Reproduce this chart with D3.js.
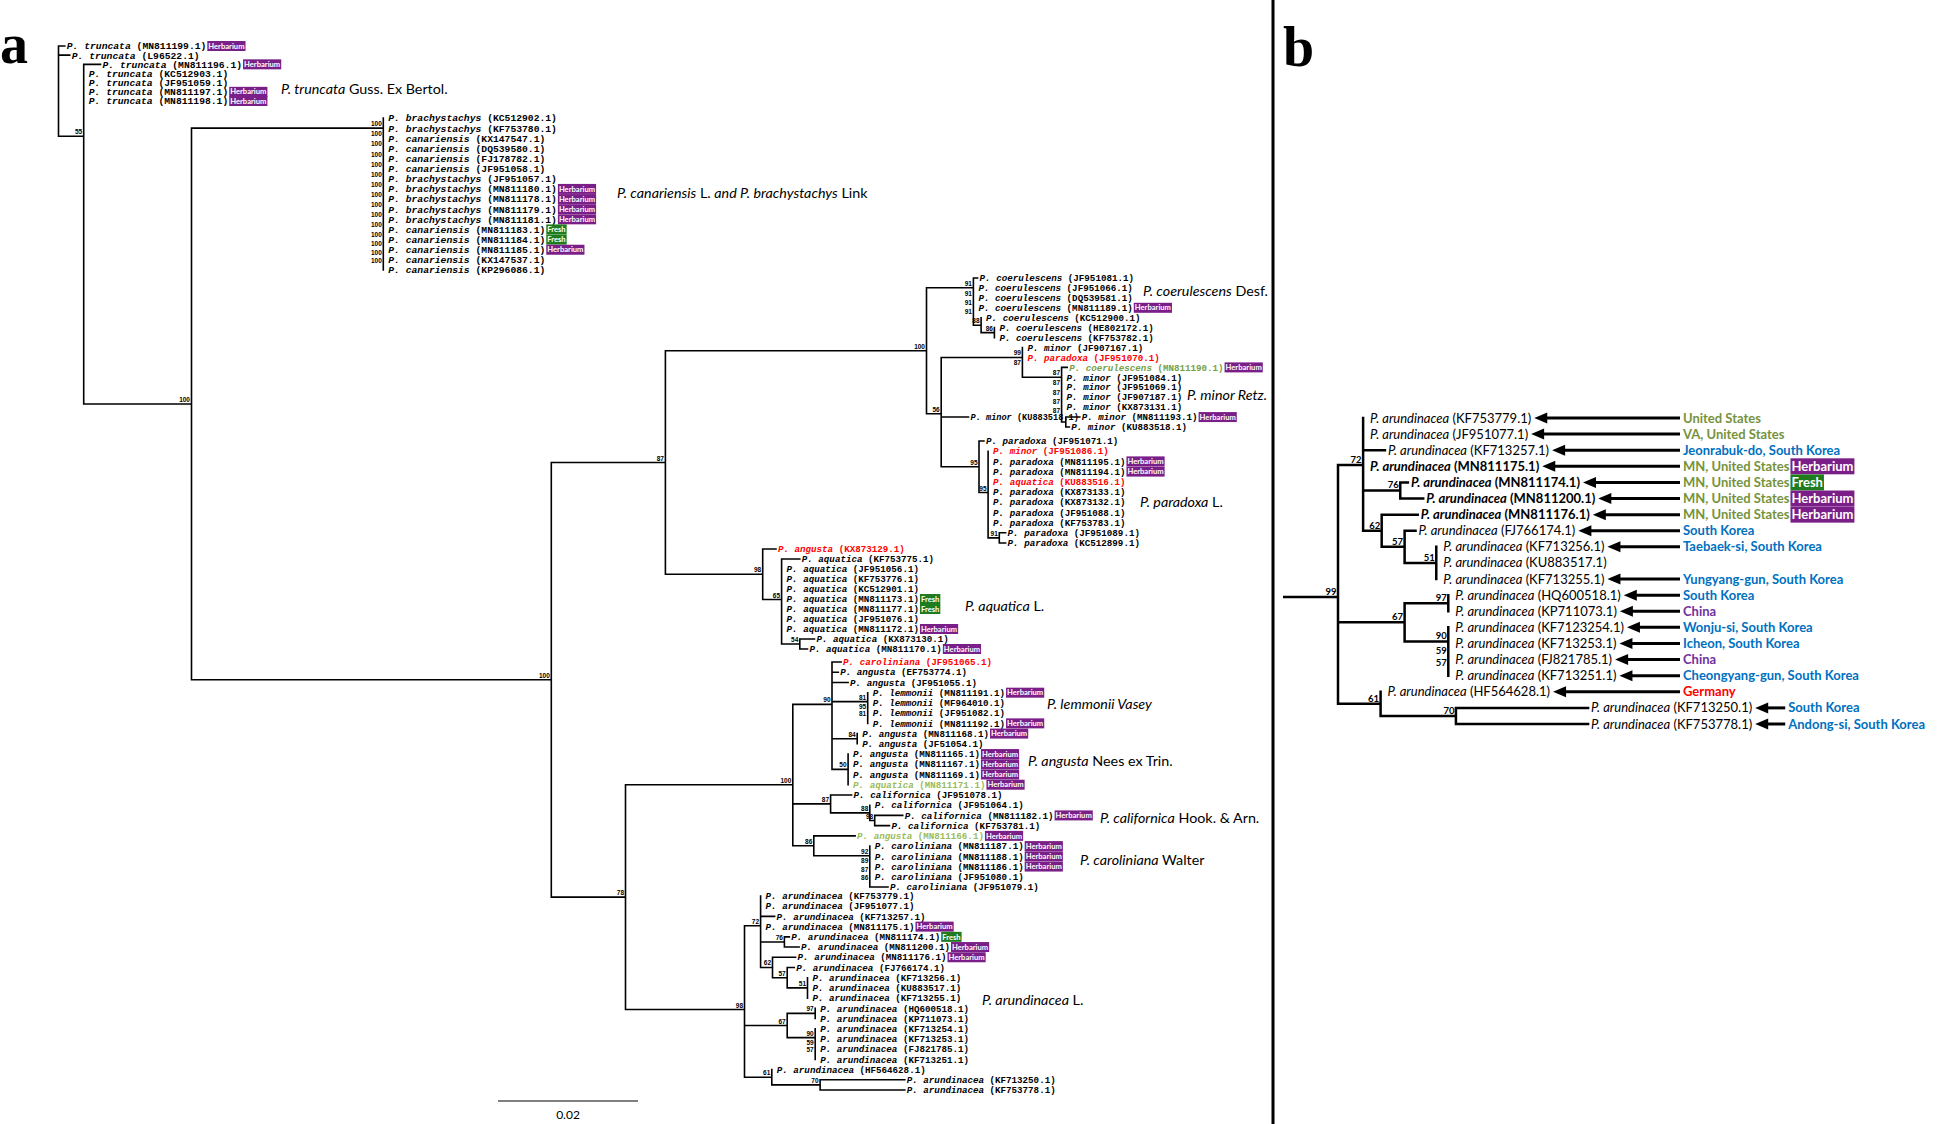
<!DOCTYPE html>
<html>
<head>
<meta charset="utf-8">
<script src="https://cdn.jsdelivr.net/npm/d3@7"></script>
<style>
  body { margin: 0; background: #fff; }
  svg { display: block; }
</style>
</head>
<body>
<svg id="fig" width="1953" height="1124"></svg>
<script>
// helpers for writing the tree down: a leaf is one sequence, a node carries its bootstrap value
function leaf(sp, acc, bl, tag, col, extra) {
  return Object.assign({sp: sp, acc: acc, bl: bl, tag: tag, col: col}, extra || {});
}
function node(sup, bl, children, extra) {
  return Object.assign({sup: sup, bl: bl, children: children}, extra || {});
}
// zero-length comb (ladder) of nodes, one support value per step
function ladder(sups, bl, items) {
  if (items.length === 2) return node(sups[0], bl, items);
  return node(sups[0], bl, [items[0], ladder(sups.slice(1), 0, items.slice(1))]);
}

// ---- data: branch lengths in substitutions / site ----
const truncataTaxa = [
  leaf("truncata", "MN811199.1", 0.0009, "H"),
  leaf("truncata", "L96522.1", 0.0016),
  leaf("truncata", "MN811196.1", 0.0024, "H"),
  leaf("truncata", "KC512903.1", 0),
  leaf("truncata", "JF951059.1", 0),
  leaf("truncata", "MN811197.1", 0, "H"),
  leaf("truncata", "MN811198.1", 0, "H")
];

const brachTaxa = [
  ["brachystachys", "KC512902.1"], ["brachystachys", "KF753780.1"], ["canariensis", "KX147547.1"],
  ["canariensis", "DQ539580.1"], ["canariensis", "FJ178782.1"], ["canariensis", "JF951058.1"],
  ["brachystachys", "JF951057.1"], ["brachystachys", "MN811180.1", "H"], ["brachystachys", "MN811178.1", "H"],
  ["brachystachys", "MN811179.1", "H"], ["brachystachys", "MN811181.1", "H"], ["canariensis", "MN811183.1", "F"],
  ["canariensis", "MN811184.1", "F"], ["canariensis", "MN811185.1", "H"], ["canariensis", "KX147537.1"],
  ["canariensis", "KP296086.1"]
];
const brachSupport = [100, 100, 100, 100, 100, 100, 100, 100, 100, 100, 100, 100, 100, 100, 100];

const coerulescensClade = ladder([91, 91, 91, 91], 0.0067, [
  leaf("coerulescens", "JF951081.1", 0.0006),
  leaf("coerulescens", "JF951066.1", 0),
  leaf("coerulescens", "DQ539581.1", 0),
  leaf("coerulescens", "MN811189.1", 0, "H"),
  node(88, 0.0011, [
    leaf("coerulescens", "KC512900.1", 0),
    node(86, 0.0019, [leaf("coerulescens", "HE802172.1", 0), leaf("coerulescens", "KF753782.1", 0)])
  ])
]);

const minorClade = ladder([99, 87], 0.0116, [
  leaf("minor", "JF907167.1", 0),
  leaf("paradoxa", "JF951070.1", 0, null, "r"),
  ladder([87, 87, 87, 87, 87], 0.0056, [
    leaf("coerulescens", "MN811190.1", 0.0008, "H", "g"),
    leaf("minor", "JF951084.1", 0),
    leaf("minor", "JF951069.1", 0),
    leaf("minor", "JF907187.1", 0),
    leaf("minor", "KX873131.1", 0),
    node(null, 0.0006, [leaf("minor", "MN811193.1", 0.002, "H"), leaf("minor", "KU883518.1", 0.0005)])
  ])
]);

const paradoxaClade = node(95, 0.0054, [
  leaf("paradoxa", "JF951071.1", 0.0007),
  node(95, 0.0013, [
    leaf("minor", "JF951086.1", 0, null, "r"),
    leaf("paradoxa", "MN811195.1", 0, "H"),
    leaf("paradoxa", "MN811194.1", 0, "H"),
    leaf("aquatica", "KU883516.1", 0, null, "r"),
    leaf("paradoxa", "KX873133.1", 0),
    leaf("paradoxa", "KX873132.1", 0),
    leaf("paradoxa", "JF951088.1", 0),
    leaf("paradoxa", "KF753783.1", 0),
    node(91, 0.0016, [leaf("paradoxa", "JF951089.1", 0.0009), leaf("paradoxa", "KC512899.1", 0.0009)])
  ])
]);

const aquaticaClade = node(98, 0.0139, [
  leaf("angusta", "KX873129.1", 0.0019, null, "r"),
  node(65, 0.0027, [
    leaf("aquatica", "KF753775.1", 0.0026),
    leaf("aquatica", "JF951056.1", 0),
    leaf("aquatica", "KF753776.1", 0),
    leaf("aquatica", "KC512901.1", 0),
    leaf("aquatica", "MN811173.1", 0, "F"),
    leaf("aquatica", "MN811177.1", 0, "F"),
    leaf("aquatica", "JF951076.1", 0),
    leaf("aquatica", "MN811172.1", 0, "H"),
    node(54, 0.0026, [leaf("aquatica", "KX873130.1", 0.0021), leaf("aquatica", "MN811170.1", 0.0011, "H")])
  ])
]);

const lemmoniiClade = node(100, 0.0239, [
  node(90, 0.0056, [
    leaf("caroliniana", "JF951065.1", 0.0013, null, "r"),
    leaf("angusta", "EF753774.1", 0.0009),
    leaf("angusta", "JF951055.1", 0.0023),
    ladder([81, 95, 81], 0.0051, [
      leaf("lemmonii", "MN811191.1", 0, "H"), leaf("lemmonii", "MF964010.1", 0),
      leaf("lemmonii", "JF951082.1", 0), leaf("lemmonii", "MN811192.1", 0, "H")
    ]),
    node(84, 0.0036, [leaf("angusta", "MN811168.1", 0, "H"), leaf("angusta", "JF51054.1", 0)]),
    node(50, 0.0023, [
      leaf("angusta", "MN811165.1", 0, "H"), leaf("angusta", "MN811167.1", 0, "H"),
      leaf("angusta", "MN811169.1", 0, "H"), leaf("aquatica", "MN811171.1", 0, "H", "lg")
    ])
  ]),
  node(87, 0.0054, [
    leaf("californica", "JF951078.1", 0.003),
    node(88, 0.0056, [
      leaf("californica", "JF951064.1", 0),
      node(98, 0.0007, [leaf("californica", "MN811182.1", 0.004, "H"), leaf("californica", "KF753781.1", 0.0021)])
    ])
  ]),
  node(86, 0.003, [
    leaf("angusta", "MN811166.1", 0.0059, "H", "lg"),
    ladder([92, 89, 87, 86], 0.008, [
      leaf("caroliniana", "MN811187.1", 0, "H"), leaf("caroliniana", "MN811188.1", 0, "H"),
      leaf("caroliniana", "MN811186.1", 0, "H"), leaf("caroliniana", "JF951080.1", 0),
      leaf("caroliniana", "JF951079.1", 0.0026)
    ])
  ])
]);

const arundinaceaClade = node(98, 0.017, [
  node(72, 0.0023, [
    leaf("arundinacea", "KF753779.1", 0),
    leaf("arundinacea", "JF951077.1", 0),
    leaf("arundinacea", "KF713257.1", 0.002),
    leaf("arundinacea", "MN811175.1", 0, "H"),
    node(76, 0.0034, [leaf("arundinacea", "MN811174.1", 0.0007, "F"), leaf("arundinacea", "MN811200.1", 0.0021, "H")]),
    node(62, 0.0017, [
      leaf("arundinacea", "MN811176.1", 0.0033, "H"),
      node(57, 0.0021, [
        leaf("arundinacea", "FJ766174.1", 0.001),
        node(51, 0.0029, [leaf("arundinacea", "KF713256.1", 0), leaf("arundinacea", "KU883517.1", 0), leaf("arundinacea", "KF713255.1", 0)])
      ])
    ])
  ]),
  node(67, 0.0061, [
    node(97, 0.004, [leaf("arundinacea", "HQ600518.1", 0), leaf("arundinacea", "KP711073.1", 0)]),
    ladder([90, 59, 57], 0.004, [
      leaf("arundinacea", "KF713254.1", 0), leaf("arundinacea", "KF713253.1", 0),
      leaf("arundinacea", "FJ821785.1", 0), leaf("arundinacea", "KF713251.1", 0)
    ])
  ]),
  node(61, 0.0039, [
    leaf("arundinacea", "HF564628.1", 0),
    node(70, 0.0069, [leaf("arundinacea", "KF713250.1", 0.0121), leaf("arundinacea", "KF753778.1", 0.0121)])
  ])
], {supB: 99});

// panel b: accession as printed, place of origin, colour group
const bAccessions = ["KF753779.1", "JF951077.1", "KF713257.1", "MN811175.1", "MN811174.1", "MN811200.1", "MN811176.1",
  "FJ766174.1", "KF713256.1", "KU883517.1", "KF713255.1", "HQ600518.1", "KP711073.1", "KF7123254.1", "KF713253.1",
  "FJ821785.1", "KF713251.1", "HF564628.1", "KF713250.1", "KF753778.1"];
const bPlaces = ["United States", "VA, United States", "Jeonrabuk-do, South Korea", "MN, United States", "MN, United States",
  "MN, United States", "MN, United States", "South Korea", "Taebaek-si, South Korea", null, "Yungyang-gun, South Korea",
  "South Korea", "China", "Wonju-si, South Korea", "Icheon, South Korea", "China", "Cheongyang-gun, South Korea",
  "Germany", "South Korea", "Andong-si, South Korea"];
const bRegions = ["us", "us", "kr", "us", "us", "us", "us", "kr", "kr", null, "kr", "kr", "cn", "kr", "kr", "cn", "kr", "de", "kr", "kr"];

const cladeNames = [
  [["P. truncata", 1], [" Guss. Ex Bertol.", 0]],
  [["P. canariensis", 1], [" L. ", 0], ["and P. brachystachys", 1], [" Link", 0]],
  [["P. coerulescens", 1], [" Desf.", 0]],
  [["P. minor Retz.", 1]],
  [["P. paradoxa", 1], [" L.", 0]],
  [["P. aquatica", 1], [" L.", 0]],
  [["P. lemmonii Vasey", 1]],
  [["P. angusta", 1], [" Nees ex Trin.", 0]],
  [["P. californica", 1], [" Hook. & Arn.", 0]],
  [["P. caroliniana", 1], [" Walter", 0]],
  [["P. arundinacea", 1], [" L.", 0]]
];

// assemble the whole tree of panel a
const treeA = node(null, 0, [
  truncataTaxa[0], truncataTaxa[1],
  node(55, 0.0036, truncataTaxa.slice(2).concat([
    node(100, 0.0154, [
      ladder(brachSupport, 0.0274, brachTaxa.map(t => leaf(t[0], t[1], 0, t[2]))),
      node(100, 0.0514, [
        node(87, 0.0163, [
          node(100, 0.0373, [
            coerulescensClade,
            node(56, 0.0021, [minorClade, leaf("minor", "KU883518.1", 0.0039, null, null, {sameRow: "MN811193.1"}), paradoxaClade])
          ]),
          aquaticaClade
        ]),
        node(78, 0.0106, [lemmoniiClade, arundinaceaClade])
      ])
    ])
  ]))
]);

// ---- layout ----
const svg = d3.select("#fig");
const colours = {r: "#ff0000", g: "#77a045", lg: "#9bbb59"};
const tagStyle = {H: {label: "Herbarium", fill: "#7b1f88"}, F: {label: "Fresh", fill: "#1e7b1e"}};
const regionColour = {us: "#76923c", kr: "#0070c0", cn: "#7030a0", de: "#ff0000"};
// the top two groups were set a little larger in the original figure
const bigLabel = {truncata: 1, brachystachys: 1, canariensis: 1};

const xa = d3.scaleLinear().domain([0, 0.02]).range([58.5, 198.5]);
const ya = d3.scaleLinear()
  .domain([0, 6, 7, 22, 23, 38, 39, 49, 50, 60, 61, 83, 84, 103])
  .range([46, 101, 118, 270, 278, 427, 441, 543, 549, 649, 662, 887, 896, 1090]);

function layout(data, yScale) {
  const root = d3.hierarchy(data);
  root.eachBefore(d => { d.len = d.parent ? d.parent.len + (d.data.bl || 0) : 0; });
  const rowOf = {};
  let r = 0;
  root.leaves().forEach(d => {
    if (d.data.sameRow) d.row = rowOf[d.data.sameRow];
    else { d.row = r++; rowOf[d.data.acc] = d.row; }
  });
  root.eachAfter(d => { d.yy = d.children ? d3.mean(d.children, c => c.yy) : yScale(d.row); });
  return root;
}

function drawBranches(g, root, x, width) {
  const p = [];
  root.descendants().forEach(d => {
    if (d.parent) p.push(`M${x(d.parent.len)},${d.yy}H${x(d.len)}`);
    if (d.children) p.push(`M${x(d.len)},${d3.min(d.children, c => c.yy)}V${d3.max(d.children, c => c.yy)}`);
  });
  g.append("path").attr("d", p.join(""))
    .attr("fill", "none").attr("stroke", "#000")
    .attr("stroke-width", width).attr("stroke-linecap", "square");
}

function drawSupport(g, root, x, size, family, pick) {
  g.selectAll(null)
    .data(root.descendants().filter(d => d.children && pick(d) != null))
    .enter().append("text")
    .attr("x", d => x(d.len) - 1.5)
    .attr("y", d => d.yy - 2)
    .attr("text-anchor", "end")
    .attr("font-family", family)
    .attr("font-weight", "bold")
    .attr("font-size", size)
    .text(pick);
}

function addTag(g, x0, y, tag, h, size) {
  const st = tagStyle[tag];
  const t = g.append("text")
    .attr("x", x0 + 1).attr("y", y).attr("dy", "0.35em")
    .attr("font-family", "Lato").attr("font-weight", "bold").attr("font-size", size)
    .attr("fill", "#fff").text(st.label);
  const w = t.node().getComputedTextLength() + 2;
  g.insert("rect", () => t.node())
    .attr("x", x0).attr("y", y - h / 2).attr("width", w).attr("height", h)
    .attr("fill", st.fill);
  return w;
}

// ---- panel a ----
const gA = svg.append("g");
const rootA = layout(treeA, ya);
drawBranches(gA, rootA, xa, 1.6);
drawSupport(gA, rootA, xa, 6.5, "Liberation Sans", d => d.data.sup);

const labA = gA.selectAll(null)
  .data(rootA.leaves())
  .enter().append("text")
  .attr("x", d => xa(d.len) + (d.data.bl > 0 ? 2 : 5))
  .attr("y", d => d.yy)
  .attr("dy", "0.35em")
  .attr("font-family", "Liberation Mono")
  .attr("font-weight", "bold")
  .attr("font-size", d => bigLabel[d.data.sp] ? 9.7 : 9.2)
  .attr("fill", d => colours[d.data.col] || "#000");
labA.append("tspan").attr("font-style", "italic").text(d => "P. " + d.data.sp);
labA.append("tspan").text(d => " (" + d.data.acc + ")");

// the stray label that shares its row is squeezed so it stops short of its neighbour
const leafByAcc = {};
labA.each(function(d) { if (!d.data.sameRow) leafByAcc[d.data.acc] = this; });
labA.filter(d => d.data.sameRow).each(function(d) {
  const other = leafByAcc[d.data.sameRow];
  const room = +other.getAttribute("x") - +this.getAttribute("x") - 3;
  if (this.getComputedTextLength() > room) {
    d3.select(this).attr("textLength", room).attr("lengthAdjust", "spacingAndGlyphs");
  }
});

labA.each(function(d) {
  if (!d.data.tag) return;
  const x0 = +this.getAttribute("x") + this.getComputedTextLength() + 1;
  addTag(gA, x0, d.yy, d.data.tag, 10, 7.6);
});

// clade names to the right of each group
const cladeSpots = [[281, 89], [617, 193], [1143, 291], [1187, 395], [1140, 502], [965, 606],
  [1047, 704], [1028, 761], [1100, 818], [1080, 860], [982, 1000]];
cladeNames.forEach((parts, i) => {
  const t = gA.append("text")
    .attr("x", cladeSpots[i][0]).attr("y", cladeSpots[i][1]).attr("dy", "0.35em")
    .attr("font-family", "Lato").attr("font-size", 14.3).attr("fill", "#000");
  parts.forEach(p => t.append("tspan").attr("font-style", p[1] ? "italic" : "normal").text(p[0]));
});

// scale bar
const barX = 498, barY = 1101;
gA.append("line")
  .attr("x1", barX).attr("x2", barX + xa(0.02) - xa(0))
  .attr("y1", barY).attr("y2", barY)
  .attr("stroke", "#000").attr("stroke-width", 1);
gA.append("text")
  .attr("x", barX + (xa(0.02) - xa(0)) / 2).attr("y", barY + 18)
  .attr("text-anchor", "middle").attr("font-family", "Lato").attr("font-size", 12)
  .text("0.02");

svg.append("text").attr("x", 0).attr("y", 63)
  .attr("font-family", "Liberation Serif").attr("font-weight", "bold").attr("font-size", 56)
  .text("a");

// divider
svg.append("line").attr("x1", 1273).attr("x2", 1273).attr("y1", 0).attr("y2", 1124)
  .attr("stroke", "#000").attr("stroke-width", 3);

svg.append("text").attr("x", 1283).attr("y", 66)
  .attr("font-family", "Liberation Serif").attr("font-weight", "bold").attr("font-size", 56)
  .text("b");

// ---- panel b: arundinacea clade enlarged ----
const gB = svg.append("g");
const xb = d3.scaleLinear().domain([0, 0.02]).range([1338, 1556.4]);
const yb = d3.scaleLinear().domain([0, bAccessions.length - 1]).range([418, 724]);
const rootB = layout(arundinaceaClade, yb);
drawBranches(gB, rootB, xb, 2.5);
gB.append("line")
  .attr("x1", 1283).attr("x2", xb(0)).attr("y1", rootB.yy).attr("y2", rootB.yy)
  .attr("stroke", "#000").attr("stroke-width", 2.5);
drawSupport(gB, rootB, xb, 9.5, "Lato", d => d.data.supB != null ? d.data.supB : d.data.sup);

rootB.leaves().forEach((d, i) => {
  const bold = d.data.acc.startsWith("MN");
  const t = gB.append("text")
    .attr("x", xb(d.len) + (d.data.bl > 0 ? 3 : 7))
    .attr("y", d.yy).attr("dy", "0.35em")
    .attr("font-family", "Lato").attr("font-size", 13)
    .attr("font-weight", bold ? "bold" : "normal");
  t.append("tspan").attr("font-style", "italic").text("P. " + d.data.sp);
  t.append("tspan").text(" (" + bAccessions[i] + ")");
  if (!bPlaces[i]) return;
  const end = +t.attr("x") + t.node().getComputedTextLength();
  const px = Math.max(1683, end + 36);
  const tip = end + 3;
  gB.append("path")
    .attr("d", `M${tip},${d.yy}L${tip + 13},${d.yy - 5.5}L${tip + 13},${d.yy + 5.5}Z`)
    .attr("fill", "#000");
  gB.append("line")
    .attr("x1", tip + 12).attr("x2", px - 3).attr("y1", d.yy).attr("y2", d.yy)
    .attr("stroke", "#000").attr("stroke-width", 3);
  const place = gB.append("text")
    .attr("x", px).attr("y", d.yy).attr("dy", "0.35em")
    .attr("font-family", "Lato").attr("font-weight", "bold").attr("font-size", 13)
    .attr("fill", regionColour[bRegions[i]])
    .text(bPlaces[i]);
  if (d.data.tag) {
    addTag(gB, px + place.node().getComputedTextLength() + 1, d.yy, d.data.tag, 16, 13);
  }
});
</script>
</body>
</html>
